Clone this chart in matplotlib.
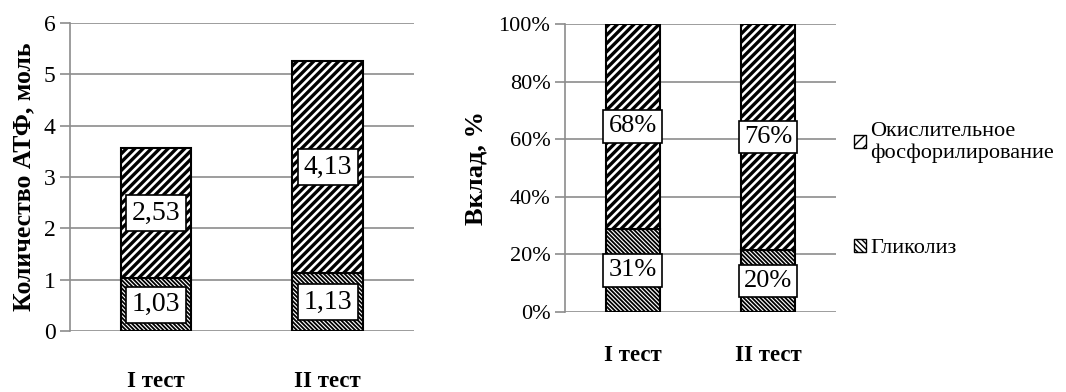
import numpy as np
import matplotlib
matplotlib.use('Agg')
import matplotlib.pyplot as plt
from matplotlib.patches import Patch

plt.rcParams['font.family'] = ['Liberation Serif', 'DejaVu Serif']

# data
tests = ['I тест', 'II тест']
glycolysis = [1.03, 1.13]
oxphos = [2.53, 4.13]
glyc_labels = ['1,03', '1,13']
ox_labels = ['2,53', '4,13']
glyc_pct_labels = ['31%', '20%']
ox_pct_labels = ['68%', '76%']
series_names = ['Окислительное\nфосфорилирование', 'Гликолиз']

grid_c = '#8c8c8c'
hatch_top = '////'
hatch_bot = '\\' * 8
hlw_top = 2.4
hlw_bot = 1.3

fig = plt.figure(figsize=(10.66, 3.92), dpi=100)
ax1 = fig.add_axes([0.0657, 0.1556, 0.3223, 0.7854])
ax2 = fig.add_axes([0.530, 0.204, 0.254, 0.735])

box = dict(boxstyle='square,pad=0.2', fc='white', ec='black', lw=1.2)

def style_axes(ax):
    for s in ['top', 'right', 'bottom']:
        ax.spines[s].set_visible(False)
    ax.spines['left'].set_color(grid_c)
    ax.spines['left'].set_linewidth(1.2)
    ax.yaxis.grid(True, color=grid_c, lw=1.2)
    ax.set_axisbelow(True)
    ax.tick_params(axis='y', colors=grid_c, length=7, width=1.2, labelcolor='black')
    ax.tick_params(axis='x', length=0)

def stacked(ax, bottoms, tops, width):
    with plt.rc_context({'hatch.linewidth': hlw_bot}):
        ax.bar(x, bottoms, width=width, color='white', edgecolor='black', hatch=hatch_bot, lw=1.5)
    with plt.rc_context({'hatch.linewidth': hlw_top}):
        ax.bar(x, tops, width=width, bottom=bottoms, color='white', edgecolor='black', hatch=hatch_top, lw=1.5)

x = np.arange(len(tests))

# left chart: absolute amounts
stacked(ax1, glycolysis, oxphos, 0.41)
for i in range(len(tests)):
    ax1.text(x[i], glycolysis[i] / 2, glyc_labels[i], ha='center', va='center', fontsize=20, bbox=box)
    ax1.text(x[i], glycolysis[i] + oxphos[i] / 2, ox_labels[i], ha='center', va='center', fontsize=20, bbox=box)
ax1.set_xlim(-0.5, 1.5)
ax1.set_ylim(0, 6)
ax1.set_yticks(range(0, 7))
ax1.tick_params(axis='y', labelsize=17)
ax1.set_xticks(x)
ax1.set_xticklabels(tests, fontsize=16.5, fontweight='bold')
ax1.tick_params(axis='x', pad=29)
ax1.set_ylabel('Количество АТФ, моль', fontsize=18.5, fontweight='bold', labelpad=6)
style_axes(ax1)

# right chart: contribution, %
tot = np.array(glycolysis) + np.array(oxphos)
g_pct = np.array(glycolysis) / tot * 100
o_pct = np.array(oxphos) / tot * 100
stacked(ax2, g_pct, o_pct, 0.4)
for i in range(len(tests)):
    ax2.text(x[i], g_pct[i] / 2, glyc_pct_labels[i], ha='center', va='center', fontsize=19, bbox=box)
    ax2.text(x[i], g_pct[i] + o_pct[i] / 2, ox_pct_labels[i], ha='center', va='center', fontsize=19, bbox=box)
ax2.set_xlim(-0.5, 1.5)
ax2.set_ylim(0, 100)
ax2.set_yticks(range(0, 101, 20))
ax2.set_yticklabels([f'{v}%' for v in range(0, 101, 20)])
ax2.tick_params(axis='y', labelsize=16)
ax2.set_xticks(x)
ax2.set_xticklabels(tests, fontsize=16.5, fontweight='bold')
ax2.tick_params(axis='x', pad=24)
ax2.set_ylabel('Вклад, %', fontsize=19, fontweight='bold', labelpad=8)
style_axes(ax2)

# legend, spread vertically like the original
with plt.rc_context({'hatch.linewidth': 1.3}):
    handles = [Patch(fc='white', ec='black', hatch='///'),
               Patch(fc='white', ec='black', hatch='\\' * 6)]
leg = fig.legend(handles, series_names, loc='upper left', bbox_to_anchor=(0.782, 0.74),
                 frameon=False, fontsize=16, handlelength=0.55, handleheight=0.55,
                 handletextpad=0.2, labelspacing=3.4)

fig.savefig('out.png', dpi=100)
